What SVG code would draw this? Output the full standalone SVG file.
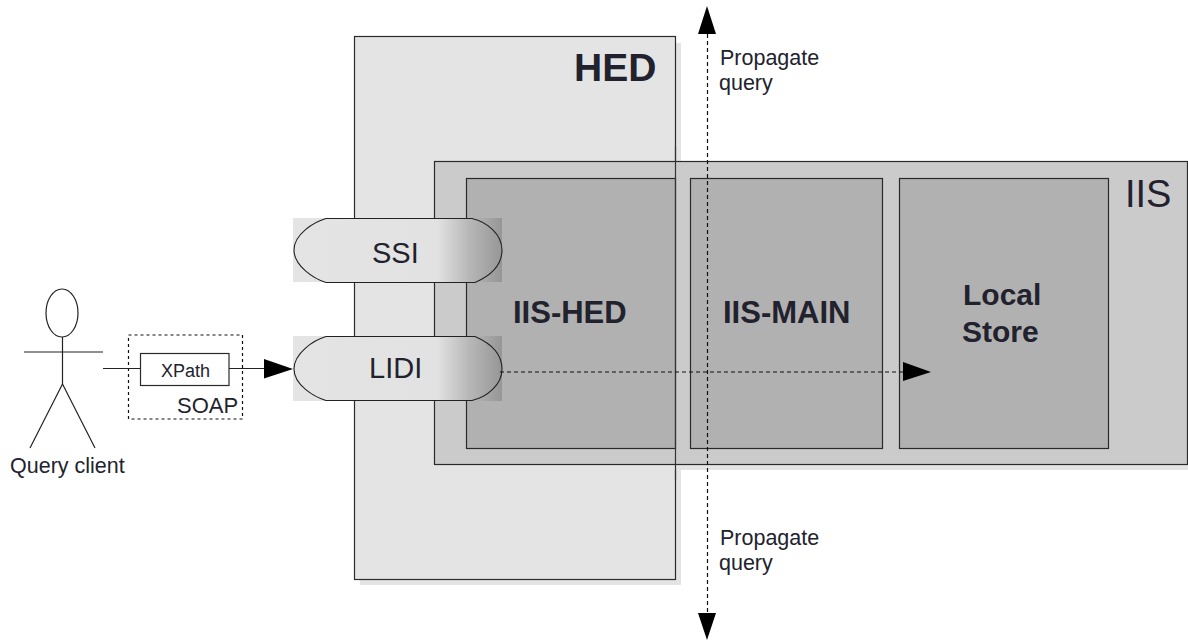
<svg xmlns="http://www.w3.org/2000/svg" width="1188" height="640" viewBox="0 0 1188 640">
  <style>
    text { font-family: "Liberation Sans", Arial, sans-serif; fill: #22222e; }
    .b { font-weight: bold; }
    .box { stroke: #2a2a2a; stroke-width: 1.2; }
    .shadow { fill: #e4e4e4; }
    .inner { fill: #b1b1b1; }
    .line { stroke: #222; stroke-width: 1.2; fill: none; }
    .dash { stroke: #111; stroke-width: 1.2; fill: none; stroke-dasharray: 4 3; }
    .head { fill: #000; }
    .pill { fill: url(#pg); stroke: #222; stroke-width: 1.1; }
    .s29 { font-size: 29px; }
    .s31 { font-size: 31px; }
    .s21 { font-size: 21.5px; }
  </style>
  <defs>
    <linearGradient id="pg" gradientUnits="userSpaceOnUse" x1="293" y1="0" x2="502" y2="0">
      <stop offset="0" stop-color="#e4e4e4"/>
      <stop offset="0.69" stop-color="#e2e2e2"/>
      <stop offset="0.84" stop-color="#b8b8b8"/>
      <stop offset="1" stop-color="#969696"/>
    </linearGradient>
  </defs>

  <rect class="shadow" x="360" y="43" width="321" height="542"/>
  <g id="hed">
    <rect class="box" x="354.500" y="36.500" width="321" height="543" fill="#e4e4e4"/>
    <text class="b" x="574" y="81" font-size="39px">HED</text>
  </g>
  <rect class="shadow" x="440" y="167" width="748" height="303"/>
  <g id="iis">
    <rect class="box" x="434.500" y="161.500" width="753" height="303" fill="#cbcbcb"/>
    <text x="1125" y="207" font-size="38px">IIS</text>
  </g>
  <g id="iis-hed">
    <rect class="box inner" x="466.500" y="178.500" width="209" height="270"/>
    <text class="b s31" x="513" y="323">IIS-HED</text>
  </g>
  <g id="iis-main">
    <rect class="box inner" x="690.500" y="178.500" width="192" height="270"/>
    <text class="b s31" x="723" y="323">IIS-MAIN</text>
  </g>
  <g id="local-store">
    <rect class="box inner" x="899.500" y="178.500" width="209" height="270"/>
    <text class="b" font-size="30px" x="963" y="305">Local</text>
    <text class="b" font-size="30px" x="962" y="342">Store</text>
  </g>
  <path d="M675.500 146V480" stroke="#333" stroke-width="1.2" fill="none"/>

  <g id="ssi">
    <rect x="293" y="218" width="209" height="64" fill="url(#pg)"/>
    <path class="pill" d="M326 218.500H472C487 222 502 234 502 250C502 266 490 276 475 282.500H326C314 279 294 266 294 250C294 234 314 222 326 218.500Z"/>
    <text class="s29" x="372" y="263">SSI</text>
  </g>
  <g id="lidi">
    <rect x="293" y="336" width="209" height="65" fill="url(#pg)"/>
    <path class="pill" d="M326 336.500H475C490 343 502 353 502 369C502 385 487 397 472 400.500H326C314 397 294 385 294 369C294 353 314 340 326 336.500Z"/>
    <text class="s29" x="369" y="378">LIDI</text>
  </g>

  <g id="query-client">
    <ellipse class="line" cx="62" cy="313" rx="16" ry="24"/>
    <path class="line" d="M24 352H103M62.500 337V384M62.500 384L30 448M62.500 384L95 448"/>
    <text class="s21" x="10" y="473">Query client</text>
  </g>
  <g id="soap">
    <rect x="128.500" y="335" width="114" height="84" fill="none" stroke="#111" stroke-width="1.2" stroke-dasharray="3 3"/>
    <text x="177" y="413" font-size="22px">SOAP</text>
  </g>
  <g id="connectors">
    <path class="line" d="M103 368.500H140.500M229 368.500H265"/>
    <polygon class="head" points="264,359 293,369 264,378.500"/>
    <path class="dash" d="M500 372H904"/>
    <polygon class="head" points="903,362 931,372 903,381"/>
    <path class="dash" d="M707.500 34V613"/>
    <polygon class="head" points="707,6 716,34 698,34"/>
    <polygon class="head" points="707,640 716,613 698,613"/>
  </g>
  <g id="xpath">
    <rect class="box" x="140.500" y="353.500" width="88.500" height="32" fill="#fff"/>
    <text x="161" y="377" font-size="18px">XPath</text>
  </g>
  <g id="propagate-top">
    <text class="s21" x="720" y="65">Propagate</text>
    <text class="s21" x="719" y="90">query</text>
  </g>
  <g id="propagate-bottom">
    <text class="s21" x="720" y="545">Propagate</text>
    <text class="s21" x="719" y="570">query</text>
  </g>
</svg>
